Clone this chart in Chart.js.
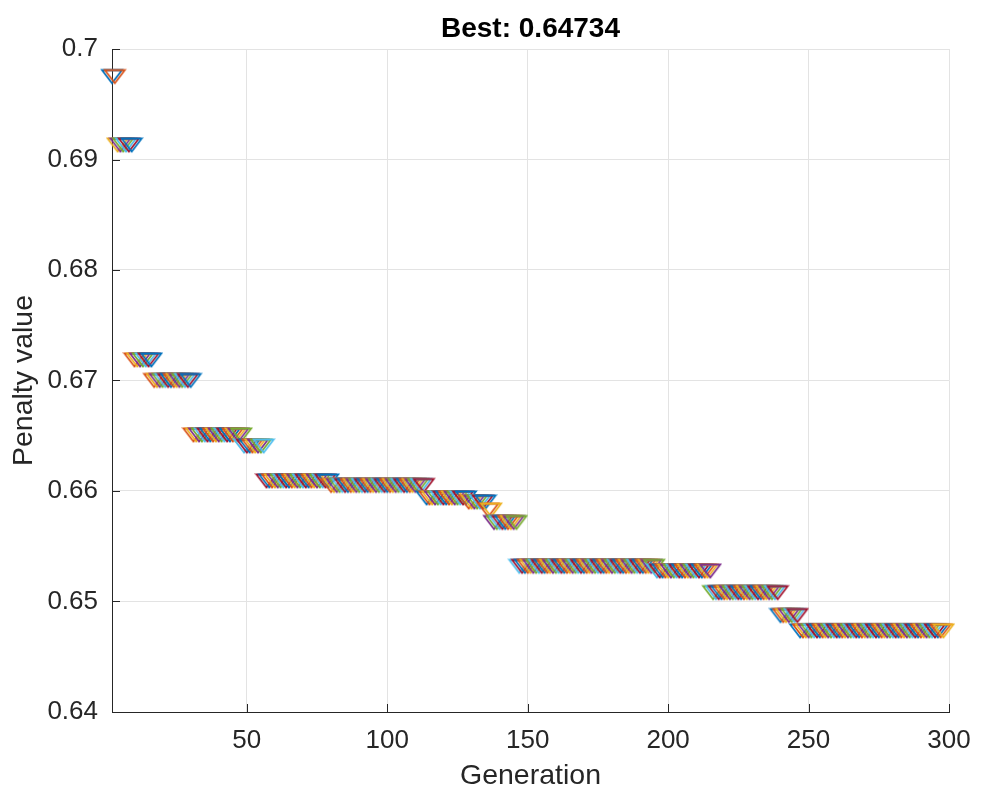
<!DOCTYPE html>
<html>
<head>
<meta charset="utf-8">
<script src="https://cdn.jsdelivr.net/npm/chart.js@4.4.1/dist/chart.umd.min.js"></script>
<style>
  html, body { margin: 0; padding: 0; background: #fff; }
  #wrap { width: 981px; height: 794px; }
</style>
</head>
<body>
<div id="wrap"><canvas id="penaltyChart" width="981" height="794"></canvas></div>
<script>
// best penalty per generation, read as runs of equal values
const stepFirstGen = [2, 4, 10, 17, 31, 49, 57, 80, 114, 129, 136, 138, 147, 196, 216, 240, 247];
const stepLastGen  = [3, 9, 16, 30, 48, 56, 79, 113, 128, 135, 137, 146, 195, 215, 239, 246, 298];
const stepPenalty  = [0.6975, 0.69131, 0.67186, 0.67, 0.66507, 0.66407, 0.66091, 0.6605,
                      0.65937, 0.659, 0.65827, 0.65715, 0.65318, 0.65276, 0.6508, 0.64873, 0.64734];

const xTicks = [50, 100, 150, 200, 250, 300];
const yTicks = [0.64, 0.65, 0.66, 0.67, 0.68, 0.69, 0.7];
const titleText = 'Best: 0.64734';

// matlab default colour order
const lineColors = ['#0072BD', '#D95319', '#EDB120', '#7E2F8E', '#77AC30', '#4DBEEE', '#A2142F'];

const points = [];
for (let s = 0; s < stepPenalty.length; s++) {
  for (let g = stepFirstGen[s]; g <= stepLastGen[s]; g++) {
    points.push({ x: g, y: stepPenalty[s] });
  }
}

// downward triangle marker images, one per colour
function makeMarker(color) {
  const c = document.createElement('canvas');
  c.width = 24;
  c.height = 18;
  const ctx = c.getContext('2d');
  ctx.strokeStyle = color;
  ctx.lineWidth = 1.8;
  ctx.lineJoin = 'miter';
  ctx.beginPath();
  ctx.moveTo(2, 2.5);
  ctx.lineTo(22, 2.5);
  ctx.lineTo(12, 15.5);
  ctx.closePath();
  ctx.stroke();
  return c;
}
const markers = lineColors.map(makeMarker);

const axisColor = '#262626';
const gridColor = '#e3e3e3';
const fontFamily = 'Liberation Sans, Arial, sans-serif';

// matlab style ticks pointing into the axes, plus the title over the plot box
const axesDecor = {
  id: 'axesDecor',
  afterDraw(chart) {
    const { ctx, chartArea, scales } = chart;
    ctx.save();
    ctx.strokeStyle = axisColor;
    ctx.lineWidth = 1;
    ctx.beginPath();
    xTicks.forEach(v => {
      const px = Math.round(scales.x.getPixelForValue(v)) + 0.5;
      ctx.moveTo(px, chartArea.bottom);
      ctx.lineTo(px, chartArea.bottom - 8);
    });
    yTicks.forEach(v => {
      const py = Math.round(scales.y.getPixelForValue(v)) + 0.5;
      ctx.moveTo(chartArea.left, py);
      ctx.lineTo(chartArea.left + 8, py);
    });
    ctx.stroke();

    ctx.fillStyle = '#000';
    ctx.font = 'bold 28px ' + fontFamily;
    ctx.textAlign = 'center';
    ctx.textBaseline = 'alphabetic';
    ctx.fillText(titleText, (chartArea.left + chartArea.right) / 2, 37);
    ctx.restore();
  }
};

new Chart(document.getElementById('penaltyChart'), {
  type: 'scatter',
  data: {
    datasets: [{
      data: points,
      showLine: false,
      clip: false,
      pointRadius: 10,
      pointHoverRadius: 10,
      pointStyle: ctx => markers[ctx.dataIndex % markers.length]
    }]
  },
  options: {
    responsive: false,
    animation: false,
    layout: { padding: { left: 0, right: 32, top: 49, bottom: 0 } },
    plugins: {
      legend: { display: false },
      tooltip: { enabled: false },
      title: { display: false }
    },
    scales: {
      x: {
        type: 'linear',
        min: 2,
        max: 300,
        afterBuildTicks: s => { s.ticks = xTicks.map(v => ({ value: v })); },
        afterFit: s => { s.height = 82; s.paddingLeft = 0; s.paddingRight = 0; },
        grid: { color: gridColor, drawTicks: false },
        border: { color: axisColor, width: 1 },
        ticks: {
          color: axisColor,
          padding: 13,
          maxRotation: 0,
          font: { family: fontFamily, size: 26 }
        },
        title: {
          display: true,
          text: 'Generation',
          color: axisColor,
          padding: { top: 0, bottom: 1 },
          font: { family: fontFamily, size: 28.5 }
        }
      },
      y: {
        type: 'linear',
        min: 0.64,
        max: 0.7,
        afterBuildTicks: s => { s.ticks = yTicks.map(v => ({ value: v })); },
        afterFit: s => { s.width = 112; s.paddingTop = 0; s.paddingBottom = 0; },
        grid: { color: gridColor, drawTicks: false },
        border: { color: axisColor, width: 1 },
        ticks: {
          color: axisColor,
          padding: 14,
          font: { family: fontFamily, size: 26 },
          callback: v => String(parseFloat(v.toFixed(2)))
        },
        title: {
          display: true,
          text: 'Penalty value',
          color: axisColor,
          padding: { top: 7, bottom: 0 },
          font: { family: fontFamily, size: 28.5 }
        }
      }
    }
  },
  plugins: [axesDecor]
});
</script>
</body>
</html>
